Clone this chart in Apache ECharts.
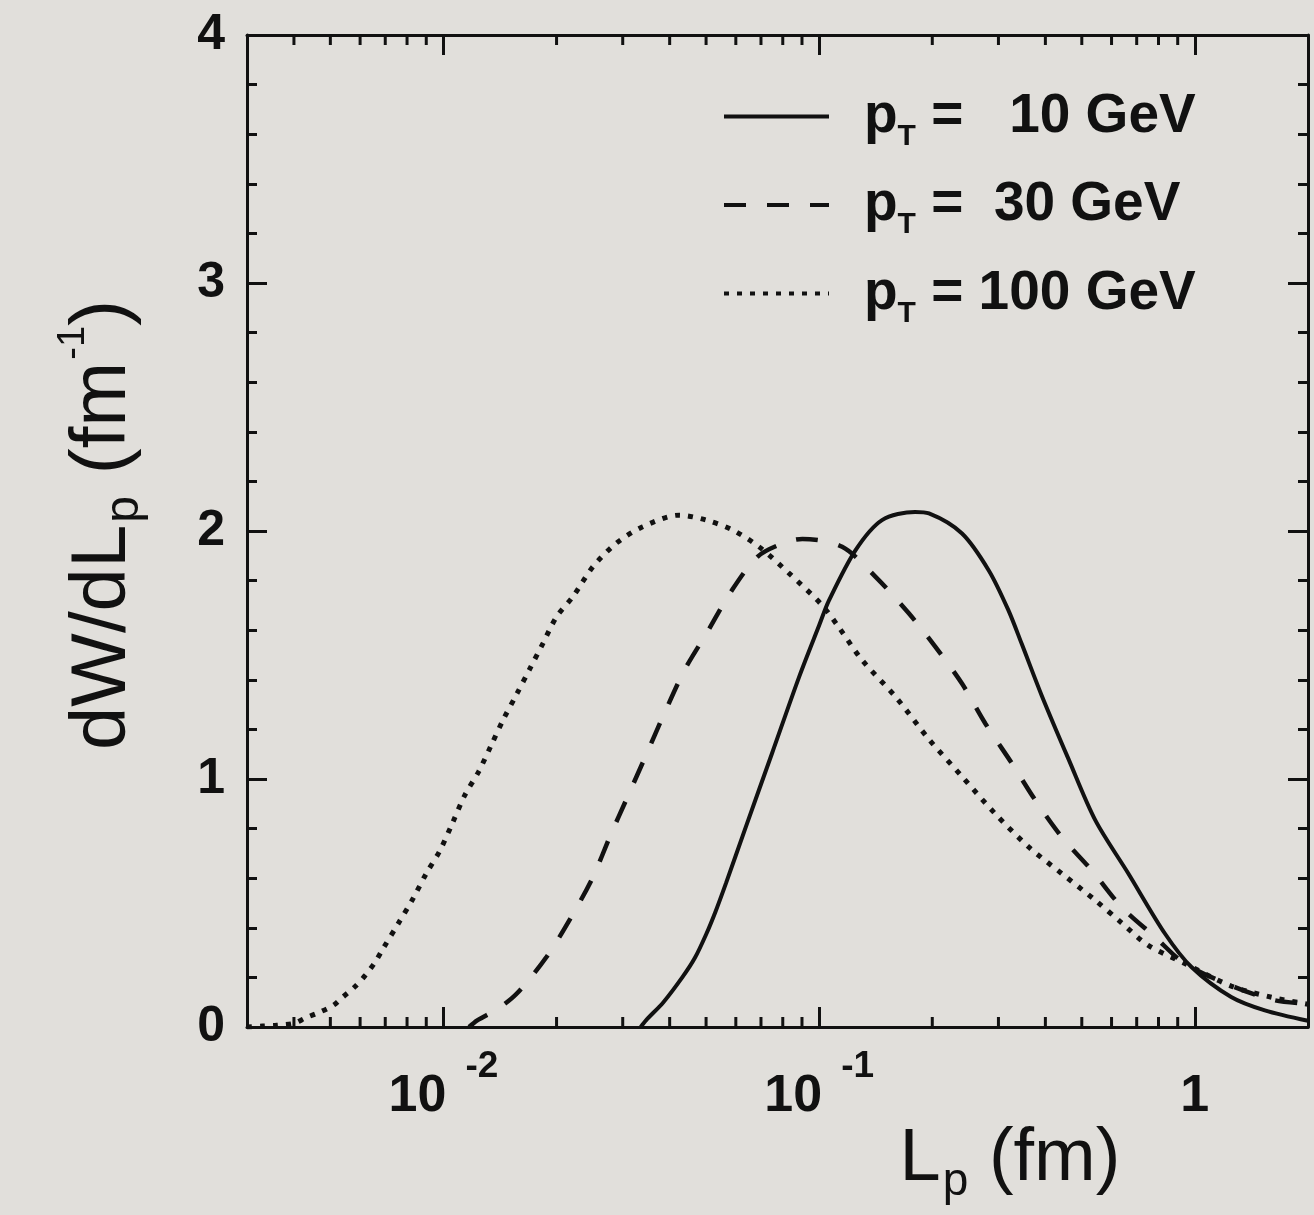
<!DOCTYPE html>
<html>
<head>
<meta charset="utf-8">
<title>dW/dLp</title>
<script src="https://cdn.jsdelivr.net/npm/echarts@6/dist/echarts.min.js"></script>
<style>
html, body { margin: 0; padding: 0; background: #e1dfdb; }
#lpChart { width: 1314px; height: 1215px; }
</style>
</head>
<body>
<div id="lpChart"></div>
<script>
// data (L_p in fm, dW/dL_p in fm^-1)
var lpSolid = [0.0335, 0.0346, 0.0385, 0.0433, 0.0467, 0.050, 0.0530, 0.0565, 0.0638, 0.075, 0.0884, 0.100, 0.1062, 0.125, 0.147, 0.180, 0.196, 0.240, 0.283, 0.319, 0.346, 0.391, 0.461, 0.543, 0.665, 0.832, 0.979, 1.249, 1.535, 2.0];
var dwSolid = [0, 0.027, 0.10, 0.202, 0.279, 0.373, 0.466, 0.580, 0.807, 1.106, 1.411, 1.62, 1.72, 1.923, 2.044, 2.077, 2.071, 1.990, 1.840, 1.680, 1.545, 1.337, 1.080, 0.834, 0.619, 0.377, 0.242, 0.121, 0.067, 0.025];

var lpDashed = [0.0117, 0.0123, 0.0140, 0.0157, 0.0188, 0.0219, 0.0250, 0.0277, 0.0309, 0.0346, 0.0387, 0.0438, 0.0504, 0.0582, 0.0685, 0.080, 0.0902, 0.1151, 0.1413, 0.1732, 0.2039, 0.2399, 0.2768, 0.3258, 0.3758, 0.4422, 0.5313, 0.638, 0.783, 0.94, 1.277, 1.631, 2.0];
var dwDashed = [0, 0.027, 0.075, 0.136, 0.282, 0.444, 0.605, 0.766, 0.928, 1.096, 1.264, 1.439, 1.593, 1.755, 1.896, 1.950, 1.968, 1.936, 1.815, 1.668, 1.533, 1.385, 1.224, 1.063, 0.915, 0.766, 0.632, 0.484, 0.363, 0.256, 0.161, 0.108, 0.094];

var lpDotted = [0.003, 0.0033, 0.0036, 0.0040, 0.0043, 0.0047, 0.0051, 0.0054, 0.0058, 0.0062, 0.0066, 0.0069, 0.0076, 0.0083, 0.0090, 0.0098, 0.0106, 0.0114, 0.0124, 0.0134, 0.0144, 0.0157, 0.0170, 0.0184, 0.0200, 0.0221, 0.0250, 0.0288, 0.0339, 0.0424, 0.0500, 0.0588, 0.0692, 0.0832, 0.1019, 0.113, 0.130, 0.160, 0.196, 0.240, 0.294, 0.361, 0.442, 0.543, 0.638, 0.750, 0.940, 1.25, 1.60, 2.0];
var dwDotted = [0.0, 0.004, 0.007, 0.015, 0.037, 0.061, 0.088, 0.121, 0.161, 0.209, 0.265, 0.315, 0.420, 0.518, 0.619, 0.713, 0.827, 0.935, 1.029, 1.136, 1.237, 1.345, 1.446, 1.547, 1.654, 1.735, 1.856, 1.950, 2.017, 2.064, 2.044, 2.004, 1.936, 1.829, 1.700, 1.610, 1.480, 1.330, 1.160, 1.010, 0.860, 0.726, 0.619, 0.511, 0.420, 0.330, 0.256, 0.165, 0.120, 0.092];

var seriesNames = ['pT10', 'pT30', 'pT100'];
var legendTexts = ['{p|p}{s|T}{t| =   10 GeV}', '{p|p}{s|T}{t| =  30 GeV}', '{p|p}{s|T}{t| = 100 GeV}'];

// minor ticks of the log axis (2..9 in every decade)
var xMinorTicks = [0.004, 0.005, 0.006, 0.007, 0.008, 0.009,
	0.02, 0.03, 0.04, 0.05, 0.06, 0.07, 0.08, 0.09,
	0.2, 0.3, 0.4, 0.5, 0.6, 0.7, 0.8, 0.9];

var xMin = 0.003, xMax = 2;
var yMin = 0, yMax = 4;

var FONT = '"Liberation Sans", Arial, Helvetica, sans-serif';
var INK = '#111111';

function zip(xs, ys) {
	var out = [];
	for(var i = 0; i < xs.length; i++) {
		out.push([xs[i], ys[i]]);
	}
	return out;
}

//10^n labels on the log axis
function decadeLabel(value) {
	var e = Math.log10(value);
	var r = Math.round(e);
	if(Math.abs(e - r) > 1e-6) return '';
	if(r === 0) return '{b1|1}{nosup| }';
	return '{b|10}{sup|' + r + '}';
}

function renderMinorTick(params, api) {
	var v = api.value(0);
	var bottom = api.coord([v, yMin]);
	var top = api.coord([v, yMax]);
	var st = { stroke: INK, lineWidth: 3 };
	return {
		type: 'group',
		children: [
			{ type: 'line', shape: { x1: bottom[0], y1: bottom[1], x2: bottom[0], y2: bottom[1] - 10 }, style: st },
			{ type: 'line', shape: { x1: top[0], y1: top[1], x2: top[0], y2: top[1] + 10 }, style: st }
		]
	};
}

var axisLineStyle = { color: INK, width: 3 };
var tickStyle = { color: INK, width: 3 };

var myChart = echarts.init(document.getElementById('lpChart'));
var option = {
	backgroundColor: '#e1dfdb',
	animation: false,
	grid: { left: 247, right: 6, top: 35, bottom: 188 },
	legend: {
		orient: 'vertical',
		left: 722,
		top: 89,
		padding: 0,
		itemWidth: 105,
		itemHeight: 20,
		itemGap: 26,
		selectedMode: false,
		data: seriesNames,
		lineStyle: { width: 4 },
		itemStyle: { color: 'transparent', borderWidth: 0, opacity: 0 },
		formatter: function(name) {
			return legendTexts[seriesNames.indexOf(name)];
		},
		textStyle: {
			color: INK,
			rich: {
				p: { fontFamily: FONT, fontWeight: 'bold', fontSize: 55, color: INK, padding: [0, 0, 0, 30] },
				s: { fontFamily: FONT, fontWeight: 'bold', fontSize: 30, color: INK, padding: [40, 0, 0, 0] },
				t: { fontFamily: FONT, fontWeight: 'bold', fontSize: 55, color: INK }
			}
		}
	},
	xAxis: [{
		type: 'log',
		min: xMin,
		max: xMax,
		position: 'bottom',
		axisLine: { show: true, onZero: false, lineStyle: axisLineStyle },
		axisTick: { show: true, inside: true, length: 20, lineStyle: tickStyle },
		splitLine: { show: false },
		axisLabel: {
			margin: 21,
			formatter: decadeLabel,
			rich: {
				b: { fontFamily: FONT, fontWeight: 'bold', fontSize: 52, color: INK },
				b1: { fontFamily: FONT, fontWeight: 'bold', fontSize: 52, color: INK, padding: [0, 0, 0, 10] },
				sup: { fontFamily: FONT, fontWeight: 'bold', fontSize: 37, color: INK, padding: [0, 0, 60, 19] },
				nosup: { fontFamily: FONT, fontWeight: 'bold', fontSize: 37, color: INK, padding: [0, 0, 60, 0] }
			}
		}
	}, {
		type: 'log',
		min: xMin,
		max: xMax,
		position: 'top',
		axisLine: { show: true, onZero: false, lineStyle: axisLineStyle },
		axisTick: { show: true, inside: true, length: 20, lineStyle: tickStyle },
		splitLine: { show: false },
		axisLabel: { show: false }
	}],
	yAxis: [{
		type: 'value',
		min: yMin,
		max: yMax,
		interval: 1,
		position: 'left',
		axisLine: { show: true, onZero: false, lineStyle: axisLineStyle },
		axisTick: { show: true, inside: true, length: 20, lineStyle: tickStyle },
		minorTick: { show: true, splitNumber: 5, length: 10, lineStyle: tickStyle },
		splitLine: { show: false },
		axisLabel: { margin: 22, fontFamily: FONT, fontWeight: 'bold', fontSize: 50, color: INK }
	}, {
		type: 'value',
		min: yMin,
		max: yMax,
		interval: 1,
		position: 'right',
		axisLine: { show: true, onZero: false, lineStyle: axisLineStyle },
		axisTick: { show: true, inside: true, length: 20, lineStyle: tickStyle },
		minorTick: { show: true, splitNumber: 5, length: 10, lineStyle: tickStyle },
		splitLine: { show: false },
		axisLabel: { show: false }
	}],
	graphic: [{
		type: 'text',
		x: 1010,
		y: 1160,
		style: {
			text: '{t|L}{s|p}{t| (fm)}',
			align: 'center', verticalAlign: 'middle',
			textAlign: 'center', textVerticalAlign: 'middle',
			rich: {
				t: { fontFamily: FONT, fontSize: 74, fill: INK, color: INK },
				s: { fontFamily: FONT, fontSize: 46, fill: INK, color: INK, padding: [44, 0, 0, 2] }
			}
		}
	}, {
		type: 'text',
		x: 103,
		y: 525,
		rotation: Math.PI / 2,
		style: {
			text: '{t|dW/dL}{s|p}{t| (fm}{u|-1}{t|)}',
			align: 'center', verticalAlign: 'middle',
			textAlign: 'center', textVerticalAlign: 'middle',
			rich: {
				t: { fontFamily: FONT, fontSize: 78, fill: INK, color: INK },
				s: { fontFamily: FONT, fontSize: 48, fill: INK, color: INK, padding: [44, 0, 0, 2] },
				u: { fontFamily: FONT, fontSize: 38, fill: INK, color: INK, padding: [0, 0, 58, 2] }
			}
		}
	}],
	series: [{
		name: 'pT10',
		type: 'line',
		data: zip(lpSolid, dwSolid),
		smooth: 0.3,
		symbol: 'none',
		lineStyle: { color: INK, width: 4 },
		z: 3
	}, {
		name: 'pT30',
		type: 'line',
		data: zip(lpDashed, dwDashed),
		smooth: 0.3,
		symbol: 'none',
		lineStyle: { color: INK, width: 4.5, type: [22, 21] },
		z: 3
	}, {
		name: 'pT100',
		type: 'line',
		data: zip(lpDotted, dwDotted),
		smooth: 0.3,
		symbol: 'none',
		lineStyle: { color: INK, width: 5, type: [5, 8] },
		z: 3
	}, {
		name: 'minorTicks',
		type: 'custom',
		silent: true,
		renderItem: renderMinorTick,
		data: zip(xMinorTicks, xMinorTicks.map(function() { return 0; })),
		z: 4
	}]
};
myChart.setOption(option);
</script>
</body>
</html>
